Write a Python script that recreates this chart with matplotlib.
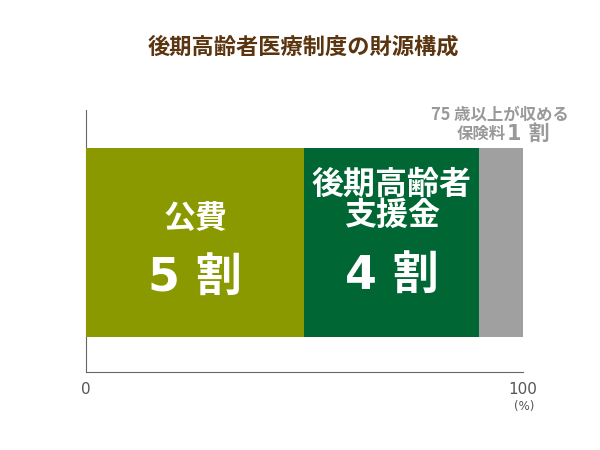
import matplotlib
matplotlib.use("Agg")
import matplotlib.pyplot as plt

plt.rcParams['font.family'] = ['Noto Sans CJK JP', 'DejaVu Sans']

title = "後期高齢者医療制度の財源構成"
labels = ["公費", "後期高齢者\n支援金", "75 歳以上が収める\n保険料"]
shares = [50, 40, 10]
share_text = ["5 割", "4 割", "1 割"]
colors = ["#8a9900", "#006633", "#a0a0a0"]
xticks = [0, 100]

num_font = ['DejaVu Sans', 'Noto Sans CJK JP']

fig = plt.figure(figsize=(6, 4.5), dpi=100)
ax = fig.add_axes([86 / 600, 1 - 372 / 450, 436.7 / 600, 262 / 450])

left = 0
for s, c in zip(shares, colors):
    ax.barh(0.494, s, left=left, height=0.721, color=c, linewidth=0)
    left += s

ax.set_xlim(0, 100)
ax.set_ylim(0, 1)
for side in ["top", "right"]:
    ax.spines[side].set_visible(False)
ax.spines["left"].set_color("#666666")
ax.spines["bottom"].set_color("#666666")
ax.spines["left"].set_zorder(0)
ax.set_yticks([])
ax.set_xticks(xticks)
ax.set_xticklabels([str(t) for t in xticks], fontsize=11, color="#555555",
                   family="DejaVu Sans")
ax.tick_params(axis="x", length=0, pad=7)
ax.text(100.3, -0.108, "(%)", ha="center", va="top",
        fontsize=8.5, color="#555555", family="DejaVu Sans")

# 公費
ax.text(25, 0.584, labels[0], ha="center", va="center", fontsize=23,
        fontweight="bold", color="white")
ax.text(25, 0.355, share_text[0], ha="center", va="center", fontsize=33,
        fontweight="bold", color="white", family=num_font)

# 後期高齢者支援金
ax.text(70, 0.655, labels[1], ha="center", va="center", fontsize=23,
        fontweight="bold", color="white", linespacing=0.98)
ax.text(70, 0.36, share_text[1], ha="center", va="center", fontsize=33,
        fontweight="bold", color="white", family=num_font)

# 75歳以上
fig.text(500 / 600, 1 - 115 / 450, labels[2].split("\n")[0], ha="center",
         va="center", fontsize=11.8, fontweight="bold", color="#999999")
fig.text(481 / 600, 1 - 134 / 450, labels[2].split("\n")[1], ha="center",
         va="center", fontsize=11.8, fontweight="bold", color="#999999")
fig.text(528 / 600, 1 - 134 / 450, share_text[2], ha="center",
         va="center", fontsize=15, fontweight="bold", color="#999999",
         family=num_font)

fig.text(303 / 600, 1 - 47 / 450, title, ha="center", va="center",
         fontsize=16, fontweight="bold", color="#5a3510")

fig.savefig("out.png", dpi=100)
